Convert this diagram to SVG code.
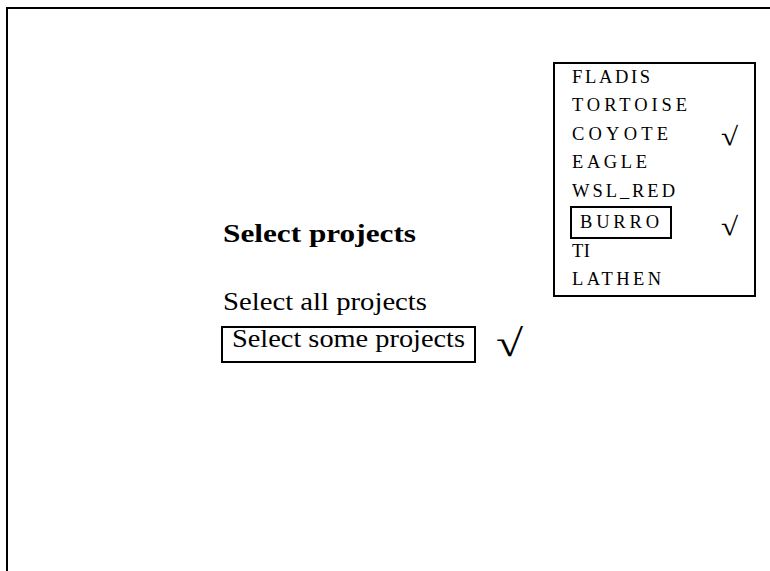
<svg xmlns="http://www.w3.org/2000/svg" width="770" height="571" viewBox="0 0 770 571">
<style>
.frame{fill:none;stroke:#000;stroke-width:2}
.box{fill:none;stroke:#000;stroke-width:2}
.t{font-family:"Liberation Serif","Times New Roman",serif;fill:#000}
.main{font-size:25px}
.bold{font-weight:bold}
.item{font-size:18.5px}
.chk{font-family:"Liberation Serif","DejaVu Serif",serif;fill:#000}
</style>
<rect width="770" height="571" fill="#fff"/>
<g id="frame">
<path class="frame" d="M7,571 V8 H770"/>
</g>
<g id="connectors"></g>
<g id="title">
<text class="t main bold" x="223" y="242" textLength="193" lengthAdjust="spacingAndGlyphs">Select projects</text>
</g>
<g id="opt-all">
<text class="t main" x="223" y="310" textLength="204" lengthAdjust="spacingAndGlyphs">Select all projects</text>
</g>
<g id="opt-some">
<rect class="box" x="222" y="327" width="253" height="35"/>
<text class="t main" x="232" y="347" textLength="233" lengthAdjust="spacingAndGlyphs">Select some projects</text>
<text class="chk" transform="translate(496,356) scale(1.3,1)" font-size="38">√</text>
</g>
<g id="project-list">
<rect class="box" x="554" y="63" width="201" height="233"/>
<text class="t item" x="572" y="83" textLength="78" lengthAdjust="spacing">FLADIS</text>
<text class="t item" x="572" y="111" textLength="115" lengthAdjust="spacing">TORTOISE</text>
<text class="t item" x="572" y="140" textLength="96" lengthAdjust="spacing">COYOTE</text>
<text class="chk" transform="translate(721,145) scale(1.2,1)" font-size="26">√</text>
<text class="t item" x="572" y="168" textLength="75" lengthAdjust="spacing">EAGLE</text>
<text class="t item" x="572" y="197" textLength="103" lengthAdjust="spacing">WSL_RED</text>
<rect class="box" x="571" y="207" width="100" height="31"/>
<text class="t item" x="580" y="228" textLength="79" lengthAdjust="spacing">BURRO</text>
<text class="chk" transform="translate(721,235) scale(1.2,1)" font-size="26">√</text>
<text class="t item" x="572" y="257" textLength="18" lengthAdjust="spacing">TI</text>
<text class="t item" x="572" y="285" textLength="89" lengthAdjust="spacing">LATHEN</text>
</g>
</svg>
